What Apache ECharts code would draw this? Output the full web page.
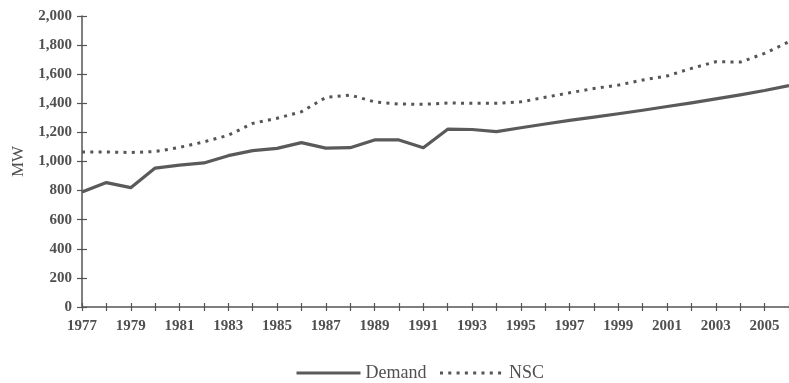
<!DOCTYPE html>
<html>
<head>
<meta charset="utf-8">
<script src="https://cdn.jsdelivr.net/npm/echarts@6/dist/echarts.min.js"></script>
<style>
  html, body { margin: 0; padding: 0; background: #fff; }
  #chart { width: 789px; height: 383px; }
</style>
</head>
<body>
<div id="chart"></div>
<script>
// Years on the horizontal axis
const years = ['1977','1978','1979','1980','1981','1982','1983','1984','1985','1986',
  '1987','1988','1989','1990','1991','1992','1993','1994','1995','1996',
  '1997','1998','1999','2000','2001','2002','2003','2004','2005','2006'];

// Peak demand, MW
const demand = [790, 855, 820, 955, 975, 990, 1040, 1075, 1090, 1130,
  1092, 1095, 1148, 1148, 1095, 1222, 1220, 1205, 1232, 1258,
  1283, 1305, 1328, 1352, 1378, 1403, 1430, 1458, 1488, 1522];

// Net supply capability, MW
const nsc = [1065, 1065, 1062, 1068, 1097, 1135, 1180, 1262, 1297, 1342,
  1440, 1457, 1410, 1395, 1393, 1402, 1400, 1400, 1410, 1441,
  1472, 1502, 1525, 1560, 1588, 1640, 1686, 1683, 1743, 1823];

const seriesNames = ['Demand', 'NSC'];
const yMin = 0, yMax = 2000, yStep = 200;

const ink = '#555555';
const textInk = '#505050';
const font = 'Liberation Serif';

const chart = echarts.init(document.getElementById('chart'), null, { renderer: 'canvas' });

const yLabel = v => v.toLocaleString('en-US');

chart.setOption({
  animation: false,
  backgroundColor: '#ffffff',
  grid: { left: 82, right: 0, top: 16, bottom: 76, containLabel: false },
  legend: {
    top: 359,
    left: 290,
    itemWidth: 64,
    itemHeight: 14,
    itemGap: 12,
    data: seriesNames,
    itemStyle: { color: 'transparent', borderWidth: 0, opacity: 0 },
    lineStyle: { width: 3 },
    textStyle: { fontFamily: font, fontSize: 18, color: textInk }
  },
  xAxis: [
    {
      type: 'category',
      data: years,
      boundaryGap: false,
      axisLine: { lineStyle: { color: ink, width: 1.5 } },
      axisTick: { show: true, length: 4, interval: 0, lineStyle: { color: ink, width: 1.2 } },
      axisLabel: { interval: 1, margin: 12, fontFamily: font, fontSize: 15, fontWeight: 'bold', color: textInk },
      splitLine: { show: false }
    },
    {
      type: 'category',
      data: years,
      boundaryGap: false,
      position: 'bottom',
      axisLine: { show: false },
      axisTick: { show: true, inside: true, length: 4, interval: 0, lineStyle: { color: ink, width: 1.2 } },
      axisLabel: { show: false },
      splitLine: { show: false }
    }
  ],
  yAxis: [
    {
      type: 'value',
      min: yMin, max: yMax, interval: yStep,
      name: 'MW',
      nameLocation: 'middle',
      nameGap: 55,
      nameRotate: 90,
      nameTextStyle: { fontFamily: font, fontSize: 17, color: textInk },
      axisLine: { show: true, lineStyle: { color: ink, width: 1.5 } },
      axisTick: { show: true, length: 5, lineStyle: { color: ink, width: 1.2 } },
      axisLabel: { margin: 10, fontFamily: font, fontSize: 15, fontWeight: 'bold', color: textInk, formatter: yLabel },
      splitLine: { show: false }
    },
    {
      type: 'value',
      min: yMin, max: yMax, interval: yStep,
      position: 'left',
      axisLine: { show: false },
      axisTick: { show: true, inside: true, length: 5, lineStyle: { color: ink, width: 1.2 } },
      axisLabel: { show: false },
      splitLine: { show: false }
    }
  ],
  series: [
    {
      name: seriesNames[0],
      type: 'line',
      data: demand,
      symbol: 'none',
      color: '#5a5a5a',
      lineStyle: { color: '#5a5a5a', width: 3.2, join: 'round' }
    },
    {
      name: seriesNames[1],
      type: 'line',
      data: nsc,
      symbol: 'none',
      color: '#555555',
      lineStyle: { color: '#555555', width: 3, type: [3, 5.3] }
    }
  ]
});
</script>
</body>
</html>
